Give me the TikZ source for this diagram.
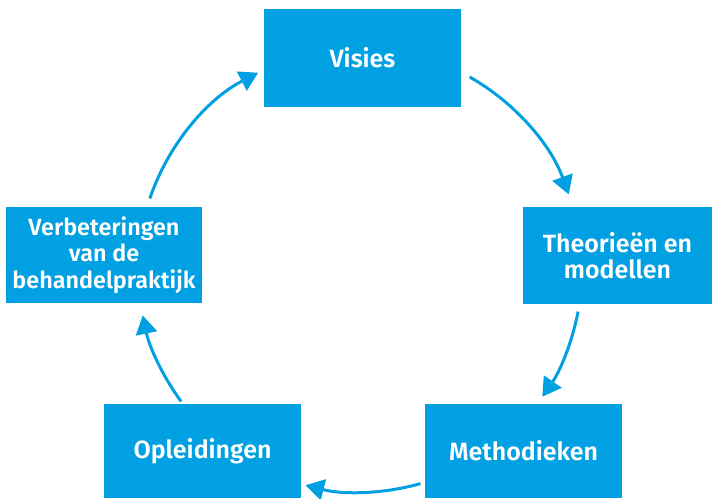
\documentclass[tikz,border=0pt]{standalone}
\usepackage{fontspec}
\setmainfont{Fira Sans}[BoldFont={Fira Sans SemiBold}]
\usetikzlibrary{arrows.meta}
\definecolor{Cycle_blue}{RGB}{0, 160, 227}
\tikzset{
    cycle box/.style={fill=Cycle_blue, text=white, align=center, inner sep=0pt,
        font=\bfseries\fontsize{14.2}{15}\selectfont},
    cycle arrow/.style={Cycle_blue, line width=1.7pt, -{Triangle[length=10.5pt, width=12pt]}}
}

\begin{document}
\begin{tikzpicture}
    %% Background
    \useasboundingbox (0,0) rectangle (14.24,9.96);
    \coordinate (mid) at (7.2,4.56);

    %% Boxes
    \node[cycle box, minimum width=3.94cm, minimum height=1.96cm] (visies) at (7.25,8.80) {Visies};
    \node[cycle box, minimum width=3.78cm, minimum height=1.94cm] (theorie) at (12.35,4.85) {Theorieën en\\modellen};
    \node[cycle box, minimum width=3.94cm, minimum height=1.88cm] (methode) at (10.47,0.94) {Methodieken};
    \node[cycle box, minimum width=3.94cm, minimum height=1.88cm] (opleiding) at (4.05,0.94) {Opleidingen};
    \node[cycle box, minimum width=3.92cm, minimum height=1.92cm,
        font=\bfseries\fontsize{13.3}{15.1}\selectfont] (verbetering) at (2.08,4.86)
        {Verbeteringen\\van de\\behandelpraktijk};

    %% Arrows
    \draw[cycle arrow] (mid) ++(60.4:4.44) arc[start angle=60.4, end angle=19.9, radius=4.44];
    \draw[cycle arrow] (mid) ++(-10.8:4.44) arc[start angle=-10.8, end angle=-34.8, radius=4.44];
    \draw[cycle arrow] (mid) ++(-74.2:4.44) arc[start angle=-74.2, end angle=-104.2, radius=4.44];
    \draw[cycle arrow] (mid) ++(216.3:4.44) arc[start angle=216.3, end angle=191.8, radius=4.44];
    \draw[cycle arrow] (mid) ++(161.2:4.44) arc[start angle=161.2, end angle=117.3, radius=4.44];
\end{tikzpicture}
\end{document}
